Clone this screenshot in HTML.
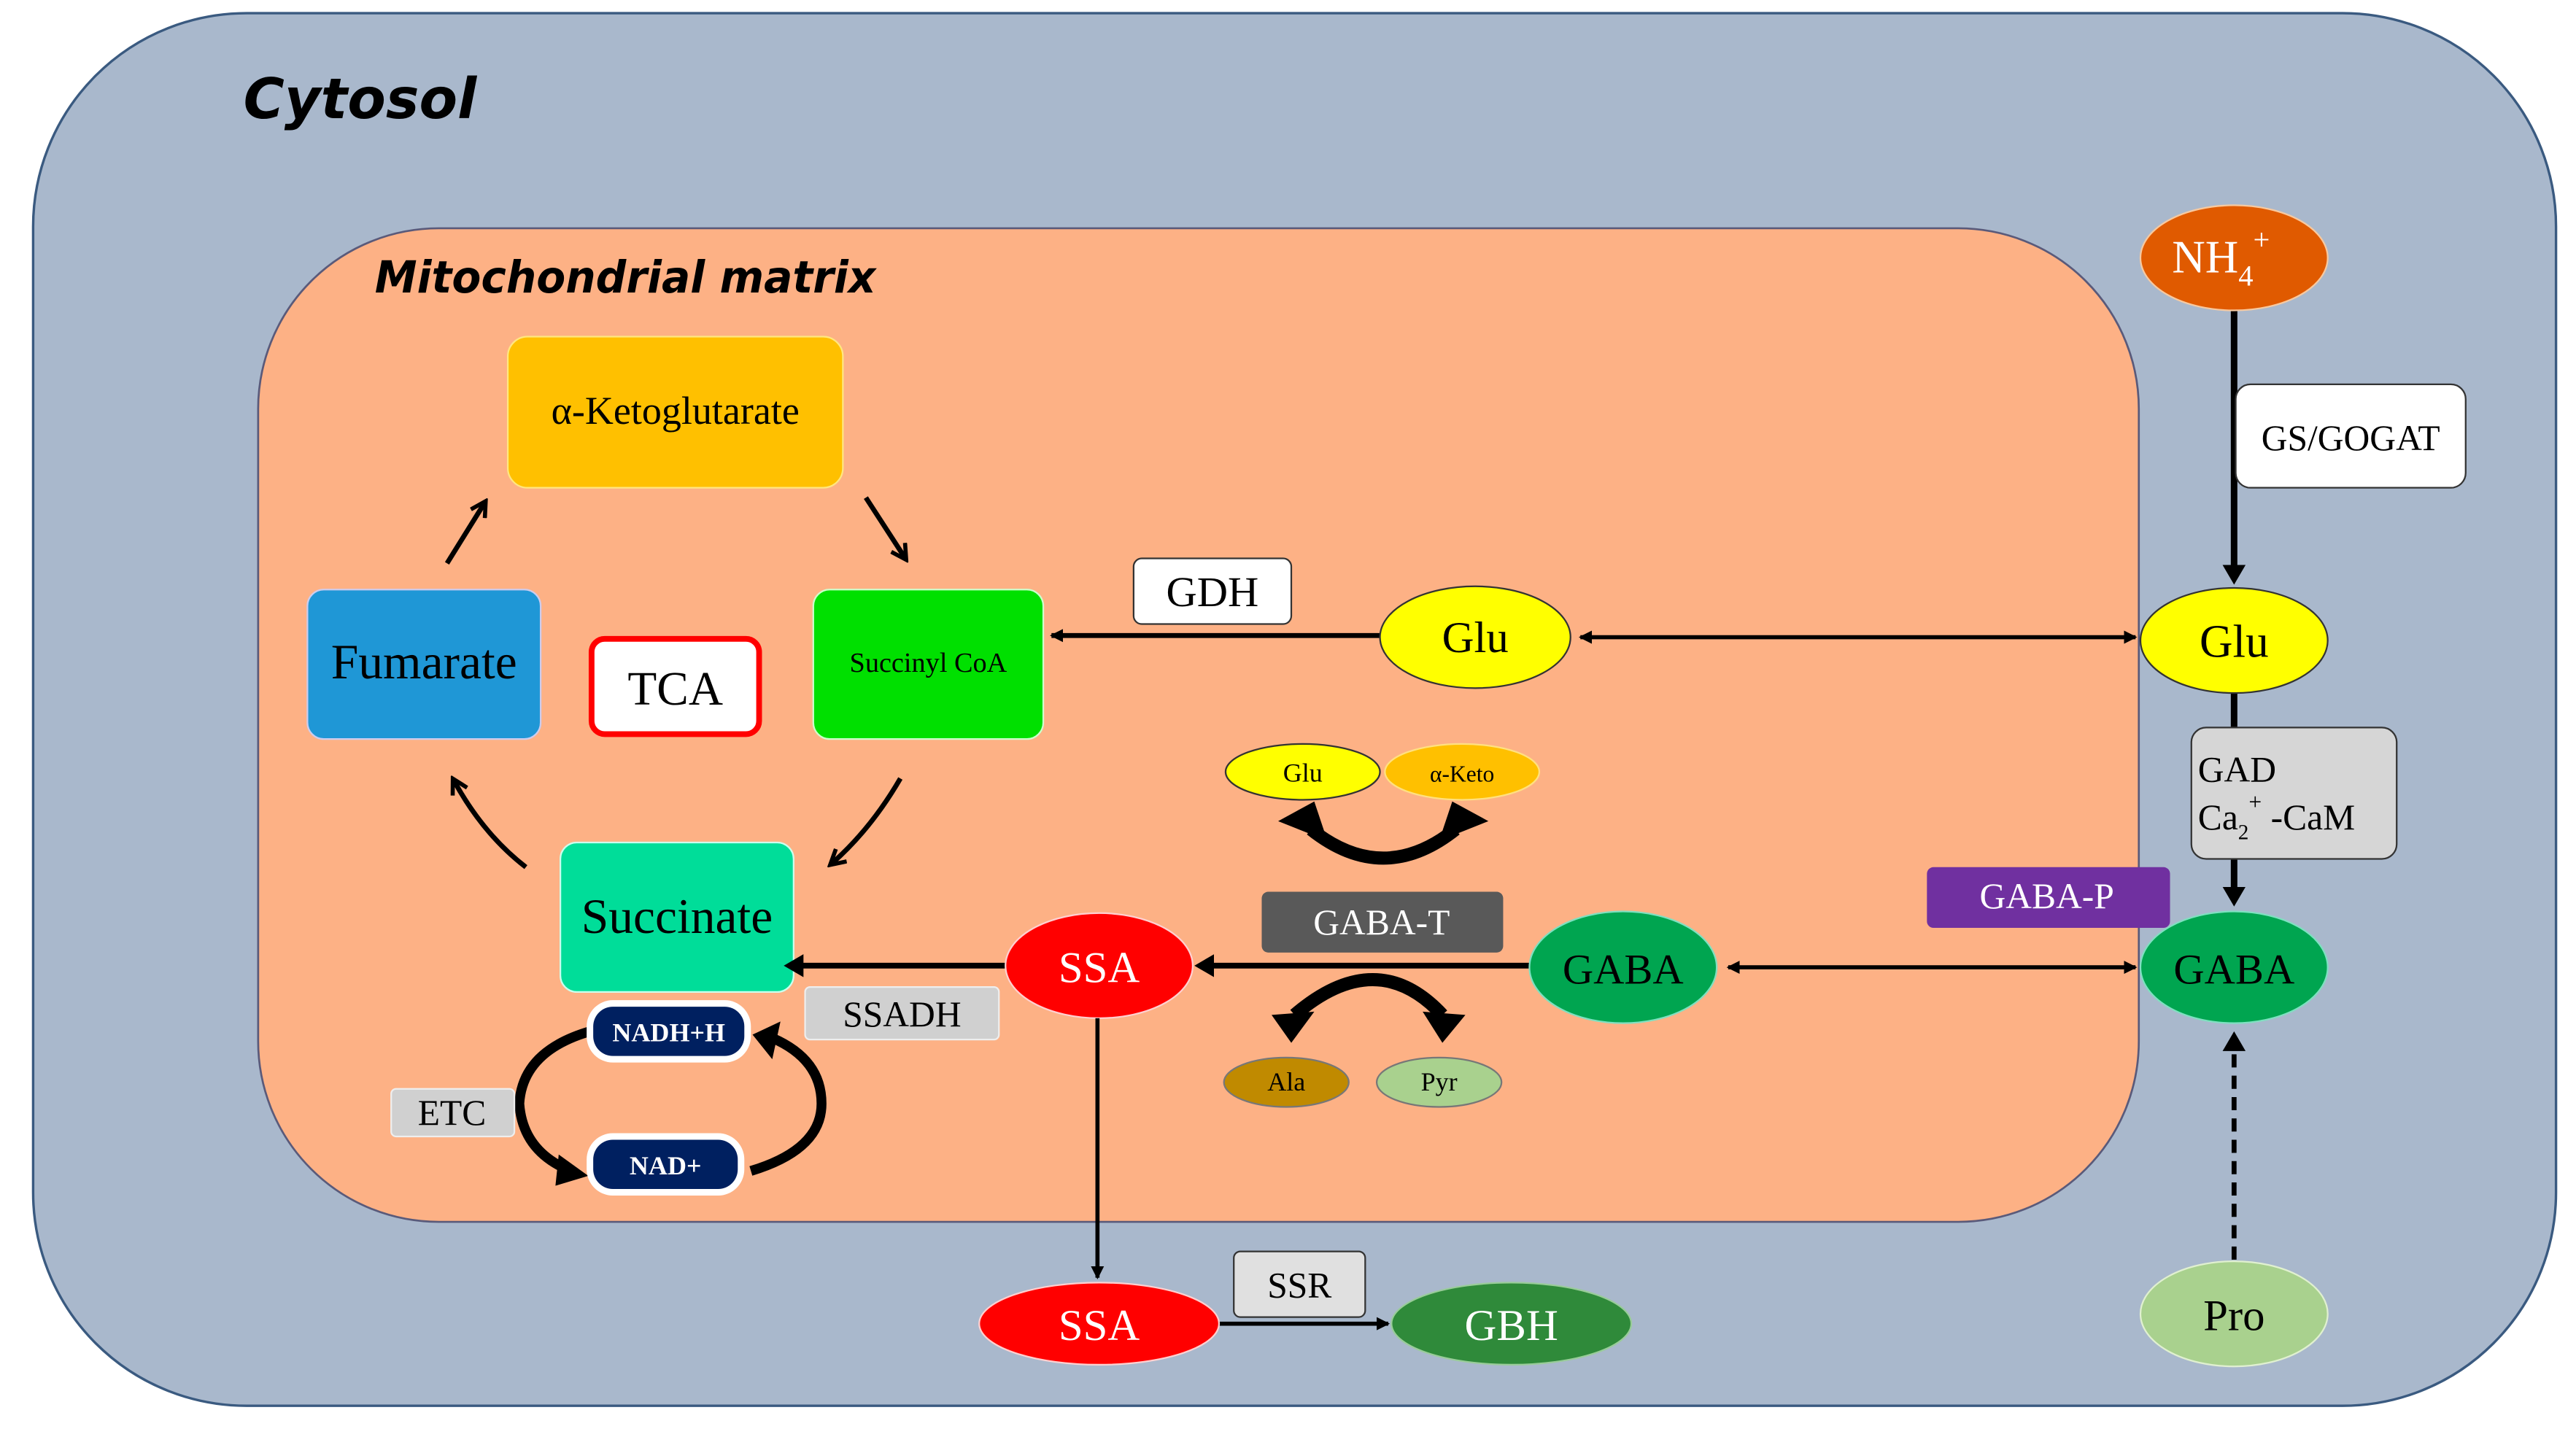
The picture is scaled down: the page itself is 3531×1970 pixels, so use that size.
<!DOCTYPE html>
<html><head><meta charset="utf-8"><style>
html,body{margin:0;padding:0;background:#fff;}
svg{display:block;}
text{font-family:"Liberation Serif",serif;}
.h{font-family:"DejaVu Sans",sans-serif;font-style:italic;font-weight:bold;}
</style></head><body>
<svg width="3531" height="1970" viewBox="0 0 1568 875" xmlns="http://www.w3.org/2000/svg">
<defs>
<marker id="a" markerWidth="8" markerHeight="8" refX="7" refY="4" orient="auto-start-reverse" markerUnits="userSpaceOnUse"><path d="M0,0 L8,4 L0,8 z" fill="#000"/></marker>
<marker id="b" markerWidth="14" markerHeight="14" refX="8" refY="7" orient="auto-start-reverse" markerUnits="userSpaceOnUse"><path d="M0,0 L12,7 L0,14 z" fill="#000"/></marker>
<marker id="o" markerWidth="12" markerHeight="12" refX="9" refY="6" orient="auto" markerUnits="userSpaceOnUse"><path d="M1,1 L10,6 L1,11" fill="none" stroke="#000" stroke-width="2.5"/></marker>
</defs>
<rect x="0" y="0" width="1568" height="875" fill="#fff"/>
<rect x="20" y="8" width="1536" height="848" rx="130" fill="#a9b8cc" stroke="#3a5a80" stroke-width="1.5"/>
<text x="148" y="72" class="h" font-size="34" fill="#000" textLength="142" lengthAdjust="spacingAndGlyphs">Cytosol</text>
<rect x="157" y="139" width="1145" height="605" rx="110" fill="#fdb185" stroke="#5a5a7a" stroke-width="1.2"/>
<text x="228" y="178" class="h" font-size="27" fill="#000" textLength="305" lengthAdjust="spacingAndGlyphs">Mitochondrial matrix</text>

<!-- TCA -->
<rect x="309" y="205" width="204" height="92" rx="12" fill="#ffc000" stroke="#ffe680"/>
<text x="411" y="258" font-size="24" text-anchor="middle">α-Ketoglutarate</text>
<rect x="187" y="359" width="142" height="91" rx="10" fill="#1f97d6" stroke="#cce"/>
<text x="258" y="413" font-size="30" text-anchor="middle">Fumarate</text>
<rect x="360" y="389" width="102" height="58" rx="8" fill="#fff" stroke="#f00" stroke-width="3.5"/>
<text x="411" y="429" font-size="29" text-anchor="middle">TCA</text>
<rect x="495" y="359" width="140" height="91" rx="10" fill="#00e000" stroke="#cfc"/>
<text x="565" y="409" font-size="17" text-anchor="middle">Succinyl  CoA</text>
<rect x="341" y="513" width="142" height="91" rx="10" fill="#00dd99" stroke="#cfe"/>
<text x="412" y="568" font-size="30" text-anchor="middle">Succinate</text>
<path d="M272,343 L295,306" stroke="#000" stroke-width="3" fill="none" marker-end="url(#o)"/>
<path d="M527,303 L551,340" stroke="#000" stroke-width="3" fill="none" marker-end="url(#o)"/>
<path d="M548,474 Q530,505 506,526" stroke="#000" stroke-width="3" fill="none" marker-end="url(#o)"/>
<path d="M320,528 Q294,508 276,475" stroke="#000" stroke-width="3" fill="none" marker-end="url(#o)"/>

<!-- GDH & Glu -->
<line x1="840" y1="387" x2="640" y2="387" stroke="#000" stroke-width="3" marker-end="url(#a)"/>
<rect x="690" y="340" width="96" height="40" rx="5" fill="#fff" stroke="#333"/>
<text x="738" y="369" font-size="26" text-anchor="middle">GDH</text>
<line x1="962" y1="388" x2="1300" y2="388" stroke="#000" stroke-width="2.5" marker-start="url(#a)" marker-end="url(#a)"/>
<ellipse cx="898" cy="388" rx="58" ry="31" fill="#ffff00" stroke="#333"/>
<text x="898" y="397" font-size="27" text-anchor="middle">Glu</text>

<!-- right column -->
<line x1="1360" y1="188" x2="1360" y2="352" stroke="#000" stroke-width="4" marker-end="url(#b)"/>
<line x1="1360" y1="420" x2="1360" y2="446" stroke="#000" stroke-width="4"/>
<line x1="1360" y1="522" x2="1360" y2="548" stroke="#000" stroke-width="4" marker-end="url(#b)"/>
<line x1="1360" y1="767" x2="1360" y2="632" stroke="#000" stroke-width="3" stroke-dasharray="8,5" marker-end="url(#b)"/>
<ellipse cx="1360" cy="157" rx="57" ry="32" fill="#e05a00" stroke="#f7c9a0"/>
<text x="1352" y="166" font-size="28" text-anchor="middle" fill="#fff">NH<tspan font-size="18" dy="8">4</tspan><tspan font-size="18" dy="-22">+</tspan></text>
<rect x="1361" y="234" width="140" height="63" rx="9" fill="#fff" stroke="#333"/>
<text x="1431" y="274" font-size="22" text-anchor="middle">GS/GOGAT</text>
<ellipse cx="1360" cy="390" rx="57" ry="32" fill="#ffff00" stroke="#333"/>
<text x="1360" y="400" font-size="28" text-anchor="middle">Glu</text>
<rect x="1334" y="443" width="125" height="80" rx="9" fill="#d6d6d6" stroke="#333"/>
<text x="1338" y="476" font-size="22">GAD</text>
<text x="1338" y="505" font-size="22">Ca<tspan font-size="13" dy="6">2</tspan><tspan font-size="14" dy="-18">+</tspan><tspan dy="12"> -CaM</tspan></text>
<rect x="1173" y="528" width="148" height="37" rx="4" fill="#7030a0"/>
<text x="1246" y="553" font-size="22" text-anchor="middle" fill="#fff">GABA-P</text>
<line x1="1052" y1="589" x2="1300" y2="589" stroke="#000" stroke-width="2.5" marker-start="url(#a)" marker-end="url(#a)"/>
<ellipse cx="1360" cy="589" rx="57" ry="34" fill="#00a550" stroke="#7fe0c0"/>
<text x="1360" y="599" font-size="26" text-anchor="middle">GABA</text>
<ellipse cx="1360" cy="800" rx="57" ry="32" fill="#a9d18e" stroke="#e0f0d0"/>
<text x="1360" y="810" font-size="27" text-anchor="middle">Pro</text>

<!-- GABA shunt -->
<line x1="932" y1="588" x2="731" y2="588" stroke="#000" stroke-width="3.5" marker-end="url(#b)"/>
<line x1="612" y1="588" x2="481" y2="588" stroke="#000" stroke-width="3.5" marker-end="url(#b)"/>
<ellipse cx="988" cy="589" rx="57" ry="34" fill="#00a550" stroke="#7fe0c0"/>
<text x="988" y="599" font-size="26" text-anchor="middle">GABA</text>
<ellipse cx="669" cy="588" rx="57" ry="32" fill="#ff0000" stroke="#ffd0d0"/>
<text x="669" y="598" font-size="27" text-anchor="middle" fill="#fff">SSA</text>
<rect x="768" y="543" width="147" height="37" rx="4" fill="#595959"/>
<text x="841" y="569" font-size="22" text-anchor="middle" fill="#fff">GABA-T</text>
<rect x="490" y="601" width="118" height="32" rx="3" fill="#d0d0d0" stroke="#eee"/>
<text x="549" y="625" font-size="22" text-anchor="middle">SSADH</text>

<!-- curved double arrows -->
<path d="M798,505 Q842,540 886,505" stroke="#000" stroke-width="8" fill="none"/>
<path d="M778,500 L800,488 L808,512 z" fill="#000"/>
<path d="M906,500 L884,488 L876,512 z" fill="#000"/>
<ellipse cx="793" cy="470" rx="47" ry="17" fill="#ffff00" stroke="#333"/>
<text x="793" y="476" font-size="16" text-anchor="middle">Glu</text>
<ellipse cx="890" cy="470" rx="47" ry="17" fill="#ffc000" stroke="#ffe080"/>
<text x="890" y="476" font-size="14" text-anchor="middle">α-Keto</text>
<path d="M788,618 Q838,575 878,618" stroke="#000" stroke-width="8" fill="none"/>
<path d="M774,618 L800,616 L786,635 z" fill="#000"/>
<path d="M892,618 L866,616 L878,635 z" fill="#000"/>
<ellipse cx="783" cy="659" rx="38" ry="15" fill="#c08a00" stroke="#777"/>
<text x="783" y="664" font-size="16" text-anchor="middle">Ala</text>
<ellipse cx="876" cy="659" rx="38" ry="15" fill="#a9d18e" stroke="#777"/>
<text x="876" y="664" font-size="16" text-anchor="middle">Pyr</text>

<!-- NADH cycle -->
<path d="M359,628 Q318,640 316,672 Q318,700 345,712" stroke="#000" stroke-width="6" fill="none"/>
<path d="M340,703 L358,716 L338,722 z" fill="#000"/>
<path d="M457,713 Q500,700 500,672 Q500,645 470,632" stroke="#000" stroke-width="6" fill="none"/>
<path d="M475,622 L458,630 L470,645 z" fill="#000"/>
<rect x="357" y="609" width="100" height="38" rx="16" fill="#fff"/>
<rect x="361" y="613" width="92" height="30" rx="12" fill="#002060"/>
<text x="407" y="634" font-size="16" font-weight="bold" text-anchor="middle" fill="#fff">NADH+H</text>
<rect x="357" y="690" width="96" height="38" rx="16" fill="#fff"/>
<rect x="361" y="694" width="88" height="30" rx="12" fill="#002060"/>
<text x="405" y="715" font-size="16" font-weight="bold" text-anchor="middle" fill="#fff">NAD+</text>
<rect x="238" y="663" width="75" height="29" rx="3" fill="#d0d0d0" stroke="#eee"/>
<text x="275" y="685" font-size="22" text-anchor="middle">ETC</text>

<!-- bottom SSA -> GBH -->
<line x1="668" y1="620" x2="668" y2="778" stroke="#000" stroke-width="2.5" marker-end="url(#a)"/>
<line x1="742" y1="806" x2="845" y2="806" stroke="#000" stroke-width="2.5" marker-end="url(#a)"/>
<ellipse cx="669" cy="806" rx="73" ry="25" fill="#ff0000" stroke="#ffd0d0"/>
<text x="669" y="816" font-size="27" text-anchor="middle" fill="#fff">SSA</text>
<rect x="751" y="762" width="80" height="40" rx="4" fill="#e0e0e0" stroke="#333"/>
<text x="791" y="790" font-size="22" text-anchor="middle">SSR</text>
<ellipse cx="920" cy="806" rx="73" ry="25" fill="#2f8a3a" stroke="#9c9"/>
<text x="920" y="816" font-size="27" text-anchor="middle" fill="#fff">GBH</text>
</svg>
</body></html>
